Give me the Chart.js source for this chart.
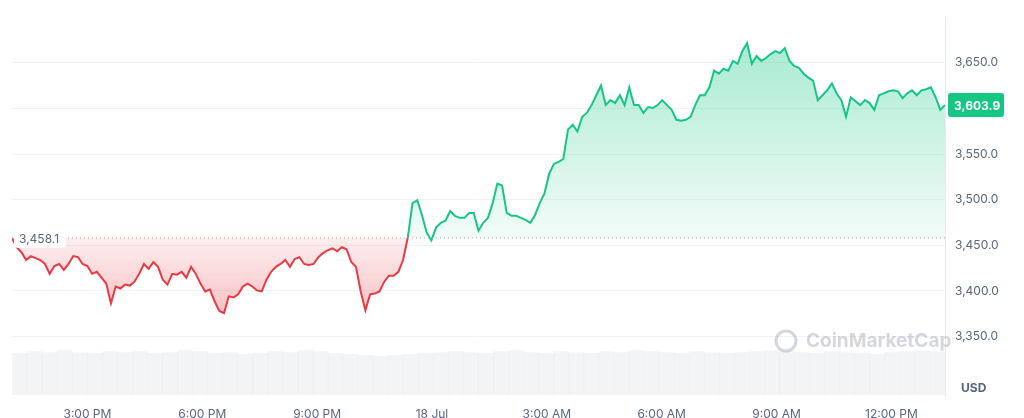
<!DOCTYPE html>
<html><head><meta charset="utf-8">
<script src="https://cdn.jsdelivr.net/npm/chart.js@4/dist/chart.umd.min.js"></script>
<style>html,body{margin:0;padding:0;background:#fff}#w{position:relative;width:1024px;height:418px}</style>
</head><body><div id="w"><canvas id="c" width="1024" height="418"></canvas></div>
<script>
const prices = [3458.1,3447.9,3442.5,3433.9,3438.2,3436,3433.9,3429.6,3418.8,3427.4,3429.6,3423.1,3429.6,3438.2,3437.1,3429.6,3427.4,3418.8,3421,3414.5,3408.1,3386.6,3404.9,3402.7,3407,3405.9,3410.2,3418.8,3429.6,3424.2,3431.7,3426.4,3412.4,3407,3418.8,3417.8,3421,3414.5,3426.4,3418.8,3408.1,3399.5,3401.6,3388.7,3378,3375.8,3394.1,3393,3396.3,3404.9,3408.1,3404.9,3400.6,3399.5,3412.4,3421,3426.4,3429.6,3433.9,3426.4,3435,3437.1,3429.6,3428.5,3429.6,3437.1,3441.4,3444.6,3446.8,3443.6,3447.9,3445.7,3431.7,3426.4,3399.5,3379,3396.3,3397.3,3399.5,3410.2,3416.7,3416.7,3421,3433.9,3458.6,3496.2,3499.5,3483.3,3464,3455.4,3469.4,3474.7,3476.9,3487.6,3482.3,3480.1,3480.1,3485.5,3485.5,3466.1,3474.7,3480.1,3496.2,3517.7,3515.6,3485.5,3482.3,3482.3,3480.1,3478,3474.7,3483.3,3496.2,3507,3528.5,3539.2,3541.4,3544.6,3576.9,3582.2,3574.7,3590.8,3595.1,3603.7,3614.5,3625.2,3603.7,3609.1,3605.9,3614.5,3603.7,3623.1,3603.7,3603.7,3595.1,3601.6,3600.5,3603.7,3609.1,3603.7,3598.4,3587.6,3586.5,3587.6,3590.8,3603.7,3614.5,3614.5,3623.1,3641.4,3638.1,3643.5,3641.4,3652.1,3648.9,3662.9,3671.5,3648.9,3657.5,3652.1,3655.3,3659.6,3662.9,3660.7,3666.1,3652.1,3646.7,3644.6,3638.1,3633.8,3630.6,3609.1,3614.5,3619.9,3627.4,3616.6,3609.1,3590.8,3612.3,3608,3603.7,3609.1,3605.9,3598.4,3614.5,3616.6,3618.8,3619.9,3618.8,3611.3,3616.6,3619.9,3614.5,3619.9,3621,3623.1,3612.3,3598.4,3603.9];
const volumes = [44,46,45,47,45,44,46,45,46,44,45,47,46,44,45,43,44,46,45,47,46,44,43,42,41,42,43,44,45,46,45,44,46,47,45,44,46,45,44,46,45,47,46,45,44,46,45,44,45,46,47,46,45,44,46,45,44,43,45,46,47,46];
const tickHours = [15,18,21,24,27,30,33,36];
const tickLabels = ['3:00 PM','6:00 PM','9:00 PM','18 Jul','3:00 AM','6:00 AM','9:00 AM','12:00 PM'];
const yTicks = [3350,3400,3450,3500,3550,3600,3650];
const basePrice = 3458.1, lastPrice = 3603.9;
const startH = 13.03, endH = 37.4;

const n = prices.length;
const pts = prices.map((p,i)=>({x:startH+(endH-startH)*i/(n-1), y:p}));
const vpts = volumes.map((v,i)=>({x:startH+(endH-startH)*(i+0.5)/volumes.length, y:v}));
const green='#16c784', red='#ea3943';
const ctx = document.getElementById('c').getContext('2d');
const gAbove = ctx.createLinearGradient(0,35,0,236);
gAbove.addColorStop(0,'rgba(22,199,132,0.38)');gAbove.addColorStop(1,'rgba(22,199,132,0.06)');
const gBelow = ctx.createLinearGradient(0,236,0,312);
gBelow.addColorStop(0,'rgba(234,57,67,0.08)');gBelow.addColorStop(1,'rgba(234,57,67,0.3)');

const fmt = v=>v.toLocaleString('en-US',{minimumFractionDigits:1,maximumFractionDigits:1});
const overlay = {id:'ov',afterDraw(ch){
  const c=ch.ctx, y=ch.scales.y, a=ch.chartArea;
  c.save();
  const by=y.getPixelForValue(basePrice);
  c.setLineDash([1,3]);c.strokeStyle='#aaa';c.lineWidth=1;
  c.beginPath();c.moveTo(a.left,by);c.lineTo(a.right,by);c.stroke();c.setLineDash([]);
  c.font='12px Inter, sans-serif';
  c.fillStyle='rgba(255,255,255,0.95)';
  c.beginPath();c.roundRect(14,by-10,52,20,4);c.fill();
  c.fillStyle='#58667e';c.textBaseline='middle';c.fillText(fmt(basePrice),19,by+1);
  const ly=y.getPixelForValue(lastPrice);
  c.fillStyle=green;c.beginPath();c.roundRect(a.right+3,ly-12,56,24,3);c.fill();
  c.fillStyle='#fff';c.font='bold 12px Inter, sans-serif';c.fillText(fmt(lastPrice),a.right+9,ly+1);
  c.fillStyle='#58667e';c.font='bold 12px Inter, sans-serif';c.fillText('USD',961,388);
  c.fillStyle='rgba(160,166,178,0.45)';c.font='bold 19px Inter, sans-serif';c.fillText('CoinMarketCap',806,341);
  c.strokeStyle='rgba(160,166,178,0.45)';c.lineWidth=3;c.beginPath();c.arc(786,341,10,0,Math.PI*2);c.stroke();
  c.restore();
}};
new Chart(ctx,{
  data:{datasets:[
    {type:'line',data:pts,yAxisID:'y',borderWidth:2,pointRadius:0,tension:0,
     segment:{borderColor:s=>((s.p0.parsed.y+s.p1.parsed.y)/2>=basePrice?green:red)},
     borderColor:green,fill:{target:{value:basePrice},above:gAbove,below:gBelow},order:1},
    {type:'bar',data:vpts,yAxisID:'v',backgroundColor:'rgba(215,218,224,0.3)',barPercentage:1,categoryPercentage:1,order:2}
  ]},
  options:{responsive:false,animation:false,
    layout:{padding:{left:12,top:10}},
    plugins:{legend:{display:false},tooltip:{enabled:false}},
    scales:{
      x:{type:'linear',min:startH,max:endH,offset:false,
        afterBuildTicks(s){s.ticks=tickHours.map(v=>({value:v}));},
        afterFit(s){s.height=23;},
        ticks:{callback:(v)=>tickLabels[tickHours.indexOf(v)]||'',color:'#58667e',font:{size:12,family:'Inter'},maxRotation:0,padding:4},
        grid:{display:false},border:{display:false}},
      y:{position:'right',min:3286,max:3700,
        afterBuildTicks(s){s.ticks=yTicks.map(v=>({value:v}));},
        afterFit(s){s.width=79;},
        ticks:{callback:v=>fmt(v),color:'#58667e',font:{size:12,family:'Inter'},padding:10},
        grid:{color:'#f1f2f4',drawTicks:false},border:{color:'#e8eaee'}},
      v:{display:false,min:0,max:400}
    }},
  plugins:[overlay]
});
</script></body></html>
